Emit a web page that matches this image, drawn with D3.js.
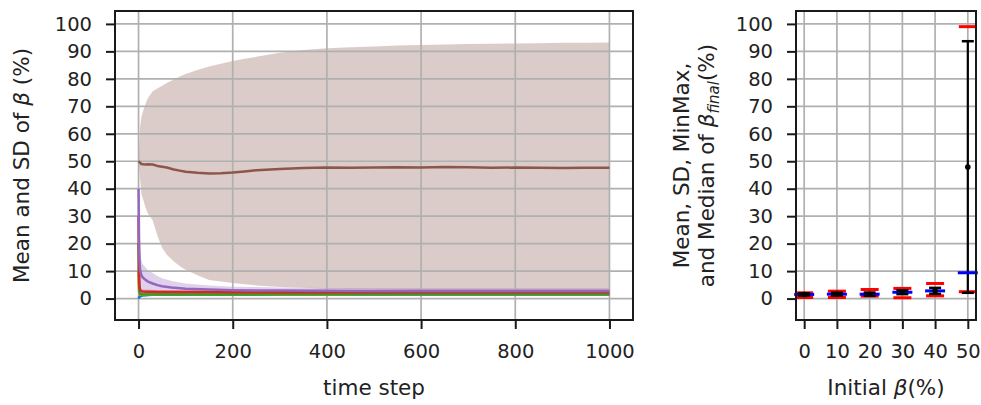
<!DOCTYPE html>
<html><head><meta charset="utf-8">
<script src="https://cdn.jsdelivr.net/npm/d3@7"></script>
<style>
body{margin:0;background:#fff;}
svg{font-family:"DejaVu Sans",sans-serif;}
</style></head>
<body><svg id="c" width="981" height="405"></svg>
<script>
// ---------- data ----------
const tFast = [0,1,2,3,4,6,8,10,15,20,30,40,50,70,100,150,200,300,400,500,600,700,800,900,1000];
const mean0  = [0,0.3,0.6,0.8,0.9,1.0,1.1,1.2,1.25,1.3,1.35,1.4,1.4,1.4,1.45,1.45,1.45,1.5,1.5,1.5,1.5,1.5,1.5,1.5,1.5];
const sd0    = [0,0.2,0.3,0.4,0.4,0.4,0.4,0.4,0.4,0.4,0.4,0.4,0.4,0.4,0.4,0.4,0.4,0.4,0.4,0.4,0.4,0.4,0.4,0.4,0.4];
const mean10 = [10,3.2,1.9,1.6,1.5,1.45,1.4,1.4,1.4,1.4,1.4,1.4,1.45,1.45,1.45,1.5,1.5,1.5,1.5,1.55,1.55,1.6,1.6,1.6,1.6];
const sd10   = [0,1.5,0.8,0.6,0.5,0.5,0.5,0.5,0.5,0.5,0.5,0.5,0.5,0.5,0.5,0.5,0.5,0.5,0.5,0.5,0.5,0.5,0.5,0.5,0.5];
const mean20 = [20,5.5,2.6,1.9,1.7,1.6,1.55,1.5,1.5,1.5,1.5,1.5,1.5,1.5,1.5,1.5,1.5,1.55,1.55,1.6,1.6,1.6,1.6,1.6,1.6];
const sd20   = [0,2.5,1.2,0.8,0.7,0.6,0.6,0.6,0.6,0.6,0.6,0.6,0.6,0.6,0.6,0.6,0.6,0.6,0.6,0.6,0.6,0.6,0.6,0.6,0.6];
const mean30 = [30,9.5,4.8,3.4,3.0,2.7,2.6,2.55,2.5,2.5,2.45,2.4,2.4,2.4,2.35,2.35,2.3,2.3,2.3,2.3,2.3,2.3,2.3,2.3,2.3];
const sd30   = [0,3.5,1.8,1.2,1.0,0.9,0.8,0.8,0.8,0.8,0.7,0.7,0.7,0.7,0.7,0.7,0.7,0.7,0.7,0.7,0.7,0.7,0.7,0.7,0.7];
const mean40 = [40,22,14,11,9.8,8.5,7.9,7.5,6.8,6.2,5.5,4.9,4.5,4.0,3.6,3.3,3.05,2.9,2.85,2.8,2.8,2.75,2.75,2.75,2.8];
const sd40   = [0,10,8,6.5,6,5.5,5,4.8,4.5,4.2,3.8,3.3,2.9,2.4,1.9,1.5,1.3,1.1,1.0,1.0,1.0,1.0,1.0,1.0,1.0];

const tSlow = [0,3,6,10,15,20,30,40,50,60,75,90,100,125,150,175,200,225,250,300,350,400,450,500,550,600,650,700,750,800,850,900,950,1000];
const mean50 = [50,49.5,49,48.9,48.8,48.9,48.8,48.3,48,47.7,47,46.5,46.2,45.8,45.5,45.6,45.9,46.3,46.7,47.2,47.5,47.7,47.6,47.7,47.8,47.7,47.9,47.8,47.6,47.7,47.6,47.5,47.6,47.6];
const high50 = [50,62,66,68.5,71,73,75.5,76.5,77.5,78.5,79.8,81,81.8,83.2,84.5,85.5,86.5,87.3,88,89.5,90.5,91.1,91.5,91.8,92.1,92.3,92.5,92.7,92.8,92.9,93,93.1,93.1,93.2];
const low50  = [50,44,38,36,33,31,28.5,23,18.5,16,13.5,11.5,10.5,8.5,6.8,6.2,5.7,5.2,4.8,4.2,3.9,3.6,3.5,3.3,3.2,3.1,3.0,3.0,2.9,2.9,2.8,2.8,2.8,2.8];

const initBeta = [0,10,20,30,40,50];
const finalMean   = [1.5,1.6,1.6,2.3,2.8,47.9];
const finalSD     = [0.4,0.5,0.6,0.7,1.1,45.8];
const finalMin    = [0.4,0.4,0.9,0.3,1.0,2.5];
const finalMax    = [2.1,2.7,3.3,3.7,5.5,99];
const finalMedian = [1.5,1.6,1.6,2.3,2.8,9.4];

const yTicks = [0,10,20,30,40,50,60,70,80,90,100];
const xTicksL = [0,200,400,600,800,1000];
const xTicksR = [0,10,20,30,40,50];

// ---------- drawing ----------
const svg = d3.select("#c");
const C = {blue:"#1f77b4",orange:"#ff7f0e",green:"#2ca02c",red:"#d62728",purple:"#9467bd",brown:"#8c564b"};
const grid = "#b0b0b0", axisCol = "#1a1a1a";
const TICKFS = "19.5px", LABFS = "21.5px";

const L = {x0:115,x1:633,y0:11,y1:320};
const R = {x0:796,x1:976,y0:11,y1:320};
const xL = d3.scaleLinear().domain([-50,1050]).range([L.x0,L.x1]);
const xR = d3.scaleLinear().domain([-2.5,52.5]).range([R.x0,R.x1]);
const yS = d3.scaleLinear().domain([-7.8,104.7]).range([L.y1,L.y0]);

svg.append("defs").html(`<clipPath id="clipL"><rect x="${L.x0}" y="${L.y0}" width="${L.x1-L.x0}" height="${L.y1-L.y0}"/></clipPath>`);

function drawGrid(P, xs, xt){
  const g = svg.append("g");
  g.selectAll(".gx").data(xt).join("line").attr("x1",d=>xs(d)).attr("x2",d=>xs(d))
    .attr("y1",P.y0).attr("y2",P.y1).attr("stroke",grid).attr("stroke-width",1.7);
  g.selectAll(".gy").data(yTicks).join("line").attr("y1",d=>yS(d)).attr("y2",d=>yS(d))
    .attr("x1",P.x0).attr("x2",P.x1).attr("stroke",grid).attr("stroke-width",1.7);
}
function drawAxes(P, xs, xt){
  const ax = d3.axisBottom(xs).tickValues(xt).tickSize(9).tickPadding(15).tickFormat(d3.format("d"));
  const gx = svg.append("g").attr("transform",`translate(0,${P.y1})`).call(ax);
  const ay = d3.axisLeft(yS).tickValues(yTicks).tickSize(9).tickPadding(14);
  const gy = svg.append("g").attr("transform",`translate(${P.x0},0)`).call(ay);
  [gx,gy].forEach(g=>{
    g.select(".domain").remove();
    g.selectAll(".tick line").attr("stroke",axisCol).attr("stroke-width",2);
    g.selectAll(".tick text").attr("fill","#222").style("font-size",TICKFS).style("font-family","DejaVu Sans");
  });
  svg.append("rect").attr("x",P.x0).attr("y",P.y0).attr("width",P.x1-P.x0).attr("height",P.y1-P.y0)
    .attr("fill","none").attr("stroke",axisCol).attr("stroke-width",2);
}

// ---- left panel ----
const plotL = svg.append("g").attr("clip-path","url(#clipL)");
const series = [
  {m:mean0,s:sd0,c:C.blue},{m:mean10,s:sd10,c:C.orange},{m:mean20,s:sd20,c:C.green},
  {m:mean30,s:sd30,c:C.red},{m:mean40,s:sd40,c:C.purple}
];
const area = d3.area().x(d=>xL(d.t)).y0(d=>yS(d.lo)).y1(d=>yS(d.hi));
const line = d3.line().x(d=>xL(d.t)).y(d=>yS(d.v));
series.forEach(s=>{
  const pts = tFast.map((t,i)=>({t,lo:s.m[i]-s.s[i],hi:s.m[i]+s.s[i]}));
  plotL.append("path").attr("d",area(pts)).attr("fill",s.c).attr("fill-opacity",0.3);
});
plotL.append("path").attr("d",area(tSlow.map((t,i)=>({t,lo:low50[i],hi:high50[i]}))))
  .attr("fill",C.brown).attr("fill-opacity",0.3);

drawGrid(L,xL,xTicksL);
const plotL2 = svg.append("g").attr("clip-path","url(#clipL)");
series.forEach(s=>{
  plotL2.append("path").attr("d",line(tFast.map((t,i)=>({t,v:s.m[i]}))))
    .attr("fill","none").attr("stroke",s.c).attr("stroke-width",2.5).attr("stroke-linejoin","round");
});
plotL2.append("path").attr("d",line(tSlow.map((t,i)=>({t,v:mean50[i]}))))
  .attr("fill","none").attr("stroke",C.brown).attr("stroke-width",2.5).attr("stroke-linejoin","round");
drawAxes(L,xL,xTicksL);

// ---- right panel ----
drawGrid(R,xR,xTicksR);
const gR = svg.append("g");
initBeta.forEach((b,i)=>{
  const x = xR(b);
  [finalMin[i],finalMax[i]].forEach(v=>{
    gR.append("line").attr("x1",x-9).attr("x2",x+9).attr("y1",yS(v)).attr("y2",yS(v))
      .attr("stroke","red").attr("stroke-width",3);
  });
  gR.append("line").attr("x1",x).attr("x2",x).attr("y1",yS(finalMean[i]-finalSD[i])).attr("y2",yS(finalMean[i]+finalSD[i]))
    .attr("stroke","black").attr("stroke-width",2.2);
  gR.append("line").attr("x1",x-10).attr("x2",x+10).attr("y1",yS(finalMedian[i])).attr("y2",yS(finalMedian[i]))
    .attr("stroke","blue").attr("stroke-width",3);
  [finalMean[i]-finalSD[i],finalMean[i]+finalSD[i]].forEach(v=>{
    gR.append("line").attr("x1",x-6).attr("x2",x+6).attr("y1",yS(v)).attr("y2",yS(v))
      .attr("stroke","black").attr("stroke-width",2.5);
  });
  gR.append("circle").attr("cx",x).attr("cy",yS(finalMean[i])).attr("r",2.8).attr("fill","black");
});
drawAxes(R,xR,xTicksR);

// ---- labels ----
function lab(x,y,rot){ return svg.append("text").attr("transform",`translate(${x},${y}) rotate(${rot})`)
  .attr("text-anchor","middle").style("font-size",LABFS).attr("fill","#222"); }
lab(374,395,0).text("time step");
const il = lab(886,395,0); il.append("tspan").text("Initial "); il.append("tspan").style("font-style","italic").text("β"); il.append("tspan").text("(%)");
const yl = lab(29,165.5,-90); yl.append("tspan").text("Mean and SD of "); yl.append("tspan").style("font-style","italic").text("β"); yl.append("tspan").text(" (%)");
lab(689,165.5,-90).text("Mean, SD, MinMax,");
const y2 = lab(714,165.5,-90);
y2.append("tspan").text("and Median of ");
y2.append("tspan").style("font-style","italic").text("β");
y2.append("tspan").style("font-style","italic").style("font-size","15px").attr("dy",5).text("final");
y2.append("tspan").attr("dy",-5).text("(%)");
</script></body></html>
